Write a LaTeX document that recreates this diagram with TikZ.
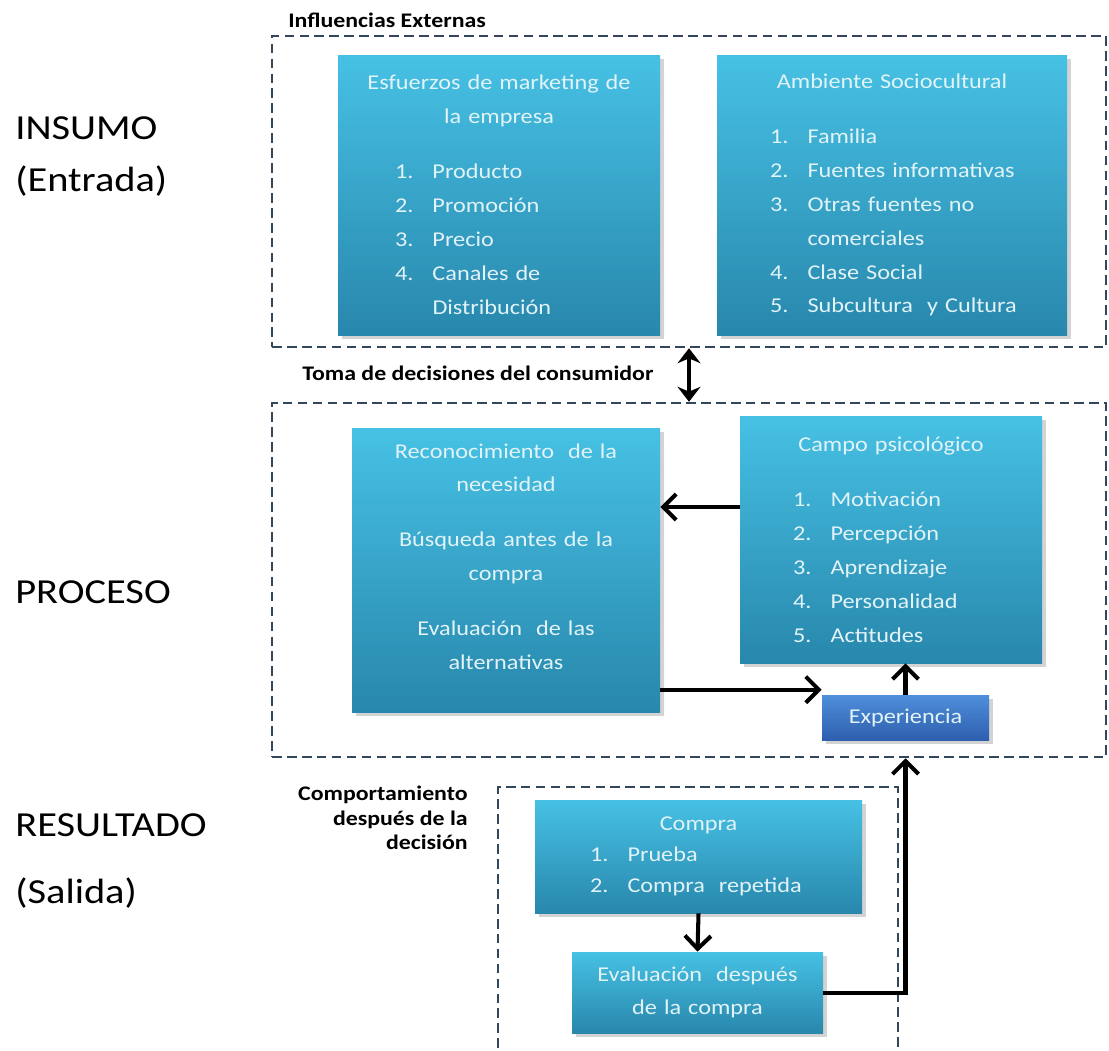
\documentclass[tikz,border=0pt]{standalone}
\usepackage{fontspec}
\setmainfont{Carlito}[FakeStretch=1.15]
\usepackage{tikz}
\usetikzlibrary{arrows.meta,positioning,shadows}
\definecolor{cajaTop}{HTML}{46C1E4}
\definecolor{cajaBot}{HTML}{2887AC}
\definecolor{expTop}{HTML}{4F8FDB}
\definecolor{expBot}{HTML}{2E5FAE}
\definecolor{cajaTxt}{HTML}{E2F3F8}
\definecolor{zonaGris}{HTML}{34475A}

\newlength{\numw}\setlength{\numw}{0.75cm}
\newcommand{\titulo}[1]{\makebox[\hsize]{#1}}
\newcommand{\punto}[2]{\makebox[\hsize][l]{\makebox[\numw][l]{#1}#2}}

\begin{document}
\begin{tikzpicture}[
  caja/.style={top color=cajaTop, bottom color=cajaBot, text=cajaTxt, align=center,
    inner sep=0pt, font=\fontsize{12}{19.3}\selectfont,
    drop shadow={opacity=0.35, shadow xshift=2pt, shadow yshift=-2pt}},
  expcaja/.style={caja, top color=expTop, bottom color=expBot},
  zona/.style={draw=zonaGris, dash pattern=on 5.5pt off 3pt, line width=1.4pt, inner sep=0pt},
  etiq/.style={font=\fontsize{20}{30}\selectfont, align=left, anchor=west, inner sep=0pt},
  rotulo/.style={font=\fontsize{11.8}{13.9}\selectfont\bfseries, inner sep=0pt},
  arr/.style={-{Straight Barb[length=2.6mm,width=5.2mm]}, line width=2.3pt},
  dbl/.style={{Stealth[length=3mm,width=4.6mm]}-{Stealth[length=3mm,width=4.6mm]}, line width=2.6pt}
]
\useasboundingbox (0,0) rectangle (22.18,-21);

% zonas punteadas
\node[zona, minimum width=16.68cm, minimum height=6.22cm] (ext) at (13.78,-3.83) {};
\node[zona, minimum width=16.68cm, minimum height=7.08cm] (proc) at (13.78,-11.6) {};
\node[zona, minimum width=8.0cm, minimum height=5.86cm] (res) at (13.96,-18.67) {};

\node[rotulo, anchor=west] (infl) at (5.76,-0.4) {Influencias Externas};
\node[rotulo, anchor=west] (toma) at (6.04,-7.46) {Toma de decisiones del consumidor};
\node[rotulo, anchor=east, align=right] (comp) at (9.36,-16.36)
  {Comportamiento\\después de la\\decisión};

% etiquetas de la izquierda
\node[etiq] (insumo) at (0.3,-3.13) {INSUMO\\(Entrada)};
\node[etiq] (proceso) at (0.3,-11.84) {PROCESO};
\node[etiq] (resultado) at (0.3,-16.5) {RESULTADO};
\node[etiq] (salida) at (0.3,-17.86) {(Salida)};

% cajas
\node[caja, minimum width=6.44cm, minimum height=5.6cm, text width=4.16cm] (esf) at (9.98,-3.9)
  {\titulo{Esfuerzos de marketing de}\\\titulo{la empresa}\\[12pt]
   \punto{1.}{Producto}\\\punto{2.}{Promoción}\\\punto{3.}{Precio}\\
   \punto{4.}{Canales de}\\\punto{}{Distribución}};
\node[caja, minimum width=7.0cm, minimum height=5.6cm, text width=4.88cm] (amb) at (17.84,-3.9)
  {\titulo{Ambiente Sociocultural}\\[12pt]
   \punto{1.}{Familia}\\\punto{2.}{Fuentes informativas}\\\punto{3.}{Otras fuentes no}\\
   \punto{}{comerciales}\\\punto{4.}{Clase Social}\\\punto{5.}{Subcultura\ \ y Cultura}};
\node[caja, minimum width=6.16cm, minimum height=5.68cm, text width=5.5cm] (reco) at (10.12,-11.4)
  {Reconocimiento\ \ de la\\necesidad\\[12pt]
   Búsqueda antes de la\\compra\\[12pt]
   Evaluación\ \ de las\\alternativas\\[-4pt]\mbox{}};
\node[caja, minimum width=6.04cm, minimum height=4.94cm, text width=3.92cm] (campo) at (17.82,-10.79)
  {\titulo{Campo psicológico}\\[12pt]
   \punto{1.}{Motivación}\\\punto{2.}{Percepción}\\\punto{3.}{Aprendizaje}\\
   \punto{4.}{Personalidad}\\\punto{5.}{Actitudes}};
\node[expcaja, minimum width=3.34cm, minimum height=0.9cm] (exp) at (18.11,-14.35) {Experiencia};
\node[caja, minimum width=6.54cm, minimum height=2.26cm, text width=4.34cm,
  font=\fontsize{12}{17.5}\selectfont] (compra) at (13.97,-17.13)
  {\titulo{Compra}\\\punto{1.}{Prueba}\\\punto{2.}{Compra\ \ repetida}};
\node[caja, minimum width=5.02cm, minimum height=1.62cm, text width=4.5cm,
  font=\fontsize{12}{18.5}\selectfont] (eval) at (13.95,-19.85)
  {Evaluación\ \ después\\de la compra};

% conectores
\draw[dbl] (ext.south) -- (proc.north);
\draw[arr] ([yshift=6.5mm]campo.west) -- ([yshift=6.5mm]campo.west -| reco.east);
\draw[arr] ([yshift=1mm]exp.north west -| reco.east) -- ([yshift=1mm]exp.north west);
\draw[arr] (exp.north) -- (exp.north |- campo.south);
\draw[arr] (compra.south) -- (eval.north);
\draw[arr] (eval.east) -| (exp.south |- proc.south);
\end{tikzpicture}
\end{document}
